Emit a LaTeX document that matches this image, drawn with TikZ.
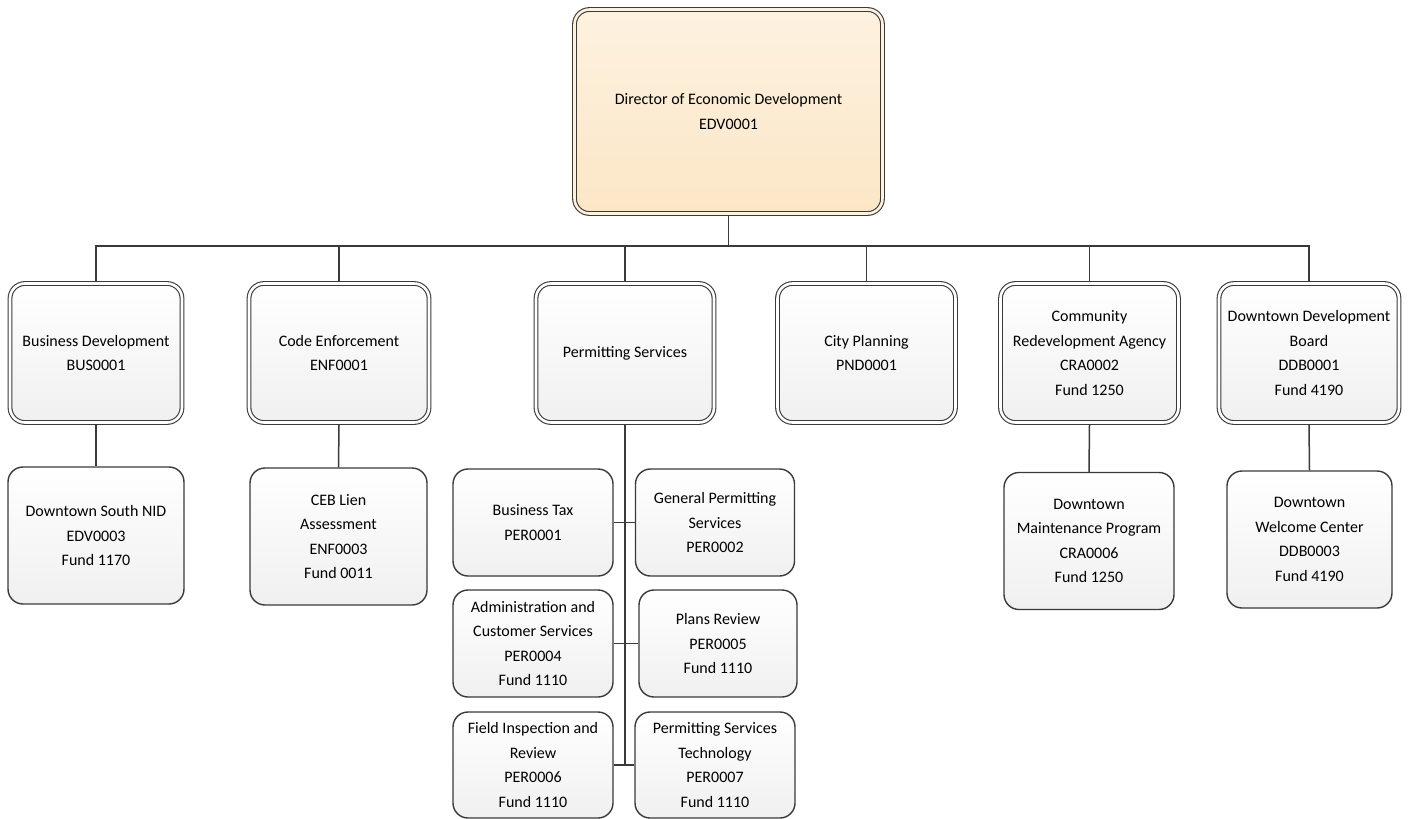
\documentclass[tikz,border=0pt]{standalone}
\usepackage{fontspec}
\setmainfont{Carlito}

\definecolor{linegray}{HTML}{3A3A3A}
\definecolor{boxgray}{HTML}{F0F0F0}
\definecolor{dirtop}{HTML}{FDF2E0}
\definecolor{dirbot}{HTML}{FCE6C6}

\begin{document}
\begin{tikzpicture}[x=1pt, y=-1pt,
    font={\fontsize{16pt}{24.5pt}\selectfont},
    dept/.style={rectangle, rounded corners=15pt, draw=linegray, line width=1.1pt,
        double=white, double distance=2.6pt, top color=white, bottom color=boxgray,
        minimum width=180pt, minimum height=139pt, align=center, inner sep=0pt, outer sep=2.4pt},
    director/.style={dept, double=dirtop, top color=dirtop, bottom color=dirbot,
        minimum width=308pt, minimum height=204pt},
    unit/.style={rectangle, rounded corners=15pt, draw=linegray, line width=1.4pt,
        top color=white, bottom color=boxgray, align=center, inner sep=0pt},
    link/.style={draw=linegray, line width=1.5pt}]

        \useasboundingbox (0, 0) rectangle (1414, 819);

        % director
        \node[director] (director) at (728.5, 111.5) {Director of Economic Development\\EDV0001};
        \coordinate (bus) at (728.5, 246);

        % departments
        \node[dept, minimum width=172pt] (busdev) at (96, 353) {Business Development\\BUS0001};
        \node[dept] (enf) at (339, 353) {Code Enforcement\\ENF0001};
        \node[dept, minimum width=178pt] (per) at (625, 353) {Permitting Services};
        \node[dept, minimum width=178pt] (pnd) at (866.5, 353) {City Planning\\PND0001};
        \node[dept, minimum width=178pt] (cra) at (1089.5, 353) {Community\\Redevelopment Agency\\CRA0002\\Fund 1250};
        \node[dept] (ddb) at (1309, 353) {Downtown Development\\Board\\DDB0001\\Fund 4190};

        % units
        \node[unit, minimum width=176pt, minimum height=137pt] (busnid) at (96, 535.5) {Downtown South NID\\EDV0003\\Fund 1170};
        \node[unit, minimum width=177pt, minimum height=137pt] (enfceb) at (338.5, 536.5) {CEB Lien\\Assessment\\ENF0003\\Fund 0011};
        \node[unit, minimum width=170pt, minimum height=137pt] (cramp) at (1089, 541) {Downtown\\Maintenance Program\\CRA0006\\Fund 1250};
        \node[unit, minimum width=165pt, minimum height=137pt] (ddbwc) at (1309.5, 539.5) {Downtown\\Welcome Center\\DDB0003\\Fund 4190};

        % permitting units
        \node[unit, minimum width=160pt, minimum height=107pt] (pertax) at (533, 522.5) {Business Tax\\PER0001};
        \node[unit, minimum width=159pt, minimum height=107pt] (pergen) at (715, 522.5) {General Permitting\\Services\\PER0002};
        \node[unit, minimum width=160pt, minimum height=107pt] (peradm) at (533, 643.5) {Administration and\\Customer Services\\PER0004\\Fund 1110};
        \node[unit, minimum width=158pt, minimum height=107pt] (perplan) at (718, 643.5) {Plans Review\\PER0005\\Fund 1110};
        \node[unit, minimum width=160pt, minimum height=106pt] (perfld) at (533, 765) {Field Inspection and\\Review\\PER0006\\Fund 1110};
        \node[unit, minimum width=160pt, minimum height=106pt] (pertech) at (715, 765) {Permitting Services\\Technology\\PER0007\\Fund 1110};

        \draw[link] (director.south) -- (bus);
        \draw[link] (busdev.north) -- (busdev.north |- bus) -- (ddb.north |- bus) -- (ddb.north);
        \draw[link] (enf.north) -- (enf.north |- bus);
        \draw[link] (per.north) -- (per.north |- bus);
        \draw[link] (pnd.north) -- (pnd.north |- bus);
        \draw[link] (cra.north) -- (cra.north |- bus);

        \draw[link] (busdev.south) -- (busnid.north);
        \draw[link] (enf.south) -- (enfceb.north);
        \draw[link] (cra.south) -- (cramp.north);
        \draw[link] (ddb.south) -- (ddbwc.north);

        \draw[link] (per.south) -- (per.south |- perfld.east);
        \draw[link] (pertax.east) -- (pergen.west);
        \draw[link] (peradm.east) -- (perplan.west);
        \draw[link] (perfld.east) -- (pertech.west);
    \end{tikzpicture}
\end{document}
